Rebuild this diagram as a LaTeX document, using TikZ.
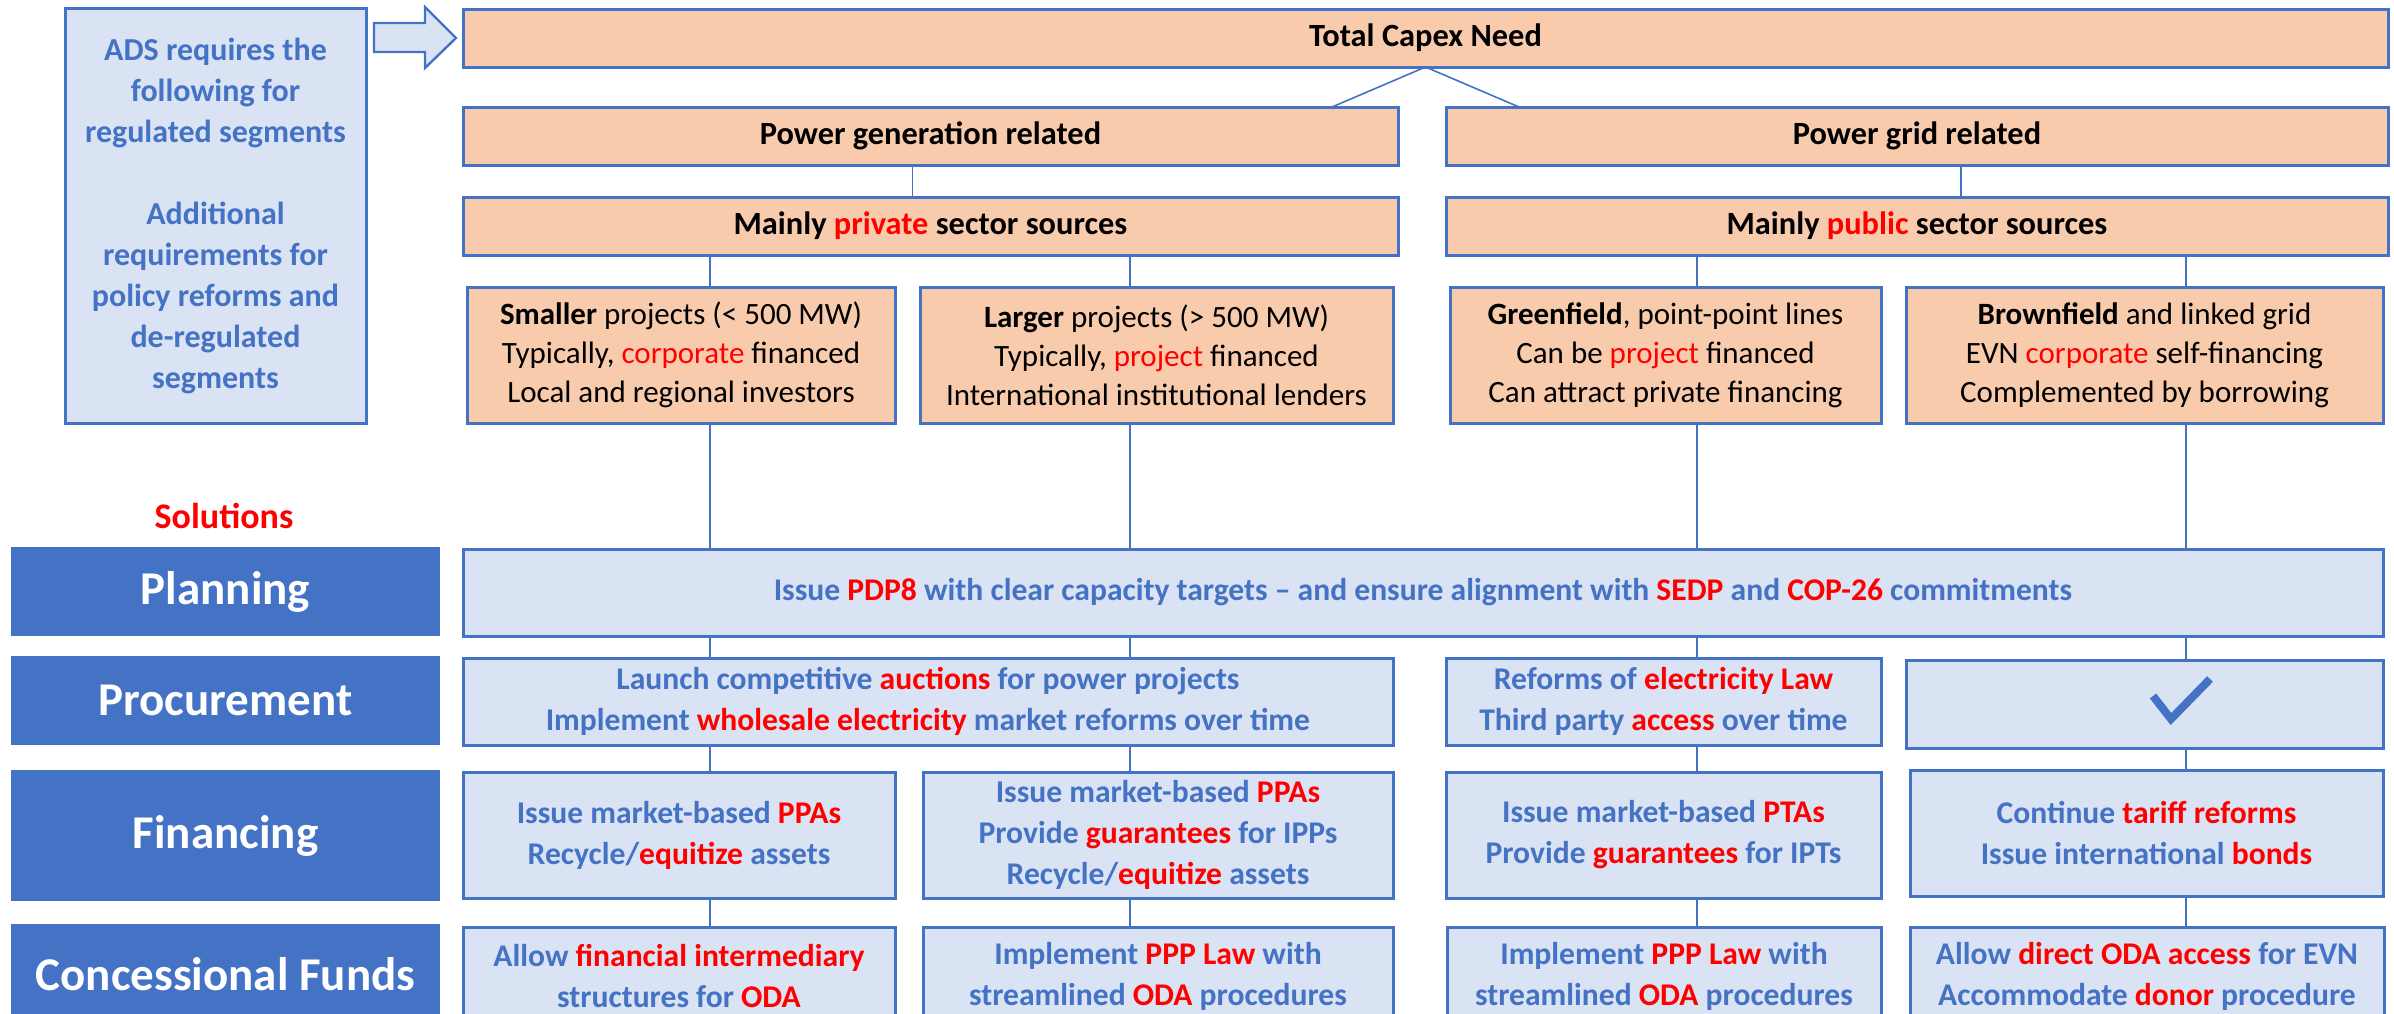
\documentclass[tikz,border=0pt]{standalone}
\usepackage{fontspec}
\setmainfont{Carlito}
\definecolor{ofblue}{HTML}{4472C4}
\definecolor{peach}{HTML}{F8CBAD}
\definecolor{paleblue}{HTML}{DAE3F3}
\definecolor{hired}{HTML}{FF0000}
\newcommand{\redtxt}[1]{\textcolor{hired}{#1}}
\tikzset{%
	peachbox/.style={
		draw=ofblue,
		fill=peach,
		line width=1.5pt,
		inner sep=0pt,
		outer sep=0pt,
		align=center,
		font=\fontsize{15.5}{19.5}\selectfont
	},
	peachhead/.style={
		peachbox,
		minimum height=29pt,
		font=\fontsize{16.2}{19.5}\selectfont\bfseries
	},
	palebox/.style={
		draw=ofblue,
		fill=paleblue,
		line width=1.5pt,
		inner sep=0pt,
		outer sep=0pt,
		align=center,
		text=ofblue,
		font=\fontsize{15.8}{20.5}\selectfont\bfseries
	},
	rowlabel/.style={
		fill=ofblue,
		inner sep=0pt,
		outer sep=0pt,
		minimum width=214.5pt,
		text=white,
		font=\fontsize{23.5}{28}\selectfont\bfseries
	},
	link/.style={
		draw=ofblue,
		line width=0.8pt
	},
}
\begin{document}
\begin{tikzpicture}[x=0.5pt, y=-0.5pt]
	\clip (0,0) rectangle (2394,1013);
	\fill[white] (0,0) rectangle (2394,1013);

	% requirements note and its block arrow
	\node[palebox, minimum width=150.5pt, minimum height=207.5pt,
		font=\fontsize{16}{20.5}\selectfont\bfseries] (ads) at (215.5,215.5)
		{ADS requires the\\following for\\regulated segments\\[20.5pt]Additional\\requirements for\\policy reforms and\\de-regulated\\segments};
	\draw[fill=paleblue, draw=ofblue, line width=1.2pt, line join=miter]
		(374,23) -- (425,23) -- (425,7) -- (456,38) -- (425,68) -- (425,52) -- (374,52) -- cycle;

	% capex tree
	\node[peachhead, minimum width=962.5pt] (capex) at (1425.5,38) {Total Capex Need};
	\node[peachhead, minimum width=467.5pt] (gen) at (930.5,136) {Power generation related};
	\node[peachhead, minimum width=471pt] (grid) at (1917,136) {Power grid related};
	\node[peachhead, minimum width=467.5pt] (priv) at (930.5,226) {Mainly \redtxt{private} sector sources};
	\node[peachhead, minimum width=471pt] (pub) at (1917,226) {Mainly \redtxt{public} sector sources};

	\node[peachbox, minimum width=214pt, minimum height=68pt] (small) at (681,355)
		{\textbf{Smaller} projects (< 500 MW)\\Typically, \redtxt{corporate} financed\\Local and regional investors};
	\node[peachbox, minimum width=236.5pt, minimum height=68pt] (large) at (1156.5,355)
		{\textbf{Larger} projects (> 500 MW)\\Typically, \redtxt{project} financed\\International institutional lenders};
	\node[peachbox, minimum width=215.5pt, minimum height=68pt] (green) at (1665.5,355)
		{\textbf{Greenfield}, point-point lines\\Can be \redtxt{project} financed\\Can attract private financing};
	\node[peachbox, minimum width=238.5pt, minimum height=68pt] (brown) at (2144.5,355)
		{\textbf{Brownfield} and linked grid\\EVN \redtxt{corporate} self-financing\\Complemented by borrowing};

	% solution rows
	\node[text=hired, font=\fontsize{18}{22}\selectfont\bfseries] (sol) at (224,516) {Solutions};
	\node[rowlabel, minimum height=44.5pt] (lplan) at (225.5,591.5) {Planning};
	\node[rowlabel, minimum height=44.5pt] (lproc) at (225.5,700.5) {Procurement};
	\node[rowlabel, minimum height=65.5pt] (lfin) at (225.5,835.5) {Financing};
	\node[rowlabel, minimum height=50.5pt] (lconc) at (225.5,974.5) {Concessional Funds};

	\node[palebox, minimum width=960pt, minimum height=43.5pt] (plan) at (1423,592.5)
		{Issue \redtxt{PDP8} with clear capacity targets -- and ensure alignment with \redtxt{SEDP} and \redtxt{COP-26} commitments};

	\node[palebox, minimum width=465pt, minimum height=43.5pt] (proc1) at (928,701.5)
		{Launch competitive \redtxt{auctions} for power projects\\Implement \redtxt{wholesale electricity} market reforms over time};
	\node[palebox, minimum width=217.5pt, minimum height=43.5pt] (proc2) at (1663.5,701.5)
		{Reforms of \redtxt{electricity Law}\\Third party \redtxt{access} over time};
	\node[palebox, minimum width=238.5pt, minimum height=44pt] (check) at (2144.5,704) {};
	\draw[ofblue, line width=4pt, line join=miter] (2153,696) -- (2171,719) -- (2210,679);

	\node[palebox, minimum width=216pt, minimum height=63pt] (fin1) at (679,835)
		{Issue market-based \redtxt{PPAs}\\Recycle/\redtxt{equitize} assets};
	\node[palebox, minimum width=235pt, minimum height=63pt] (fin2) at (1158,835)
		{Issue market-based \redtxt{PPAs}\\Provide \redtxt{guarantees} for IPPs\\Recycle/\redtxt{equitize} assets};
	\node[palebox, minimum width=217.5pt, minimum height=63pt] (fin3) at (1663.5,835)
		{Issue market-based \redtxt{PTAs}\\Provide \redtxt{guarantees} for IPTs};
	\node[palebox, minimum width=236.5pt, minimum height=63pt] (fin4) at (2146.5,833)
		{Continue \redtxt{tariff reforms}\\Issue international \redtxt{bonds}};

	\node[palebox, minimum width=216pt, minimum height=49pt] (conc1) at (679,976)
		{Allow \redtxt{financial intermediary}\\structures for \redtxt{ODA}};
	\node[palebox, minimum width=235pt, minimum height=49pt] (conc2) at (1158,976)
		{Implement \redtxt{PPP Law} with\\streamlined \redtxt{ODA} procedures};
	\node[palebox, minimum width=217pt, minimum height=49pt] (conc3) at (1664,976)
		{Implement \redtxt{PPP Law} with\\streamlined \redtxt{ODA} procedures};
	\node[palebox, minimum width=237pt, minimum height=49pt] (conc4) at (2147,976)
		{Allow \redtxt{direct ODA access} for EVN\\Accommodate \redtxt{donor} procedure};

	% connectors
	\draw[link] (capex.south) -- ([xshift=-33pt]gen.north east);
	\draw[link] (capex.south) -- ([xshift=36.5pt]grid.north west);
	\draw[link] ([xshift=-9pt]gen.south) -- ([xshift=-9pt]priv.north);
	\draw[link] ([xshift=22pt]grid.south) -- ([xshift=22pt]pub.north);

	\coordinate (colA) at (710,0);
	\coordinate (colB) at (1130,0);
	\coordinate (colC) at (1697,0);
	\coordinate (colD) at (2186,0);
	\foreach \a/\b in {priv/small, small/plan, plan/proc1, proc1/fin1, fin1/conc1}
		\draw[link] (\a.south -| colA) -- (\b.north -| colA);
	\foreach \a/\b in {priv/large, large/plan, plan/proc1, proc1/fin2, fin2/conc2}
		\draw[link] (\a.south -| colB) -- (\b.north -| colB);
	\foreach \a/\b in {pub/green, green/plan, plan/proc2, proc2/fin3, fin3/conc3}
		\draw[link] (\a.south -| colC) -- (\b.north -| colC);
	\foreach \a/\b in {pub/brown, brown/plan, plan/check, check/fin4, fin4/conc4}
		\draw[link] (\a.south -| colD) -- (\b.north -| colD);
\end{tikzpicture}
\end{document}
